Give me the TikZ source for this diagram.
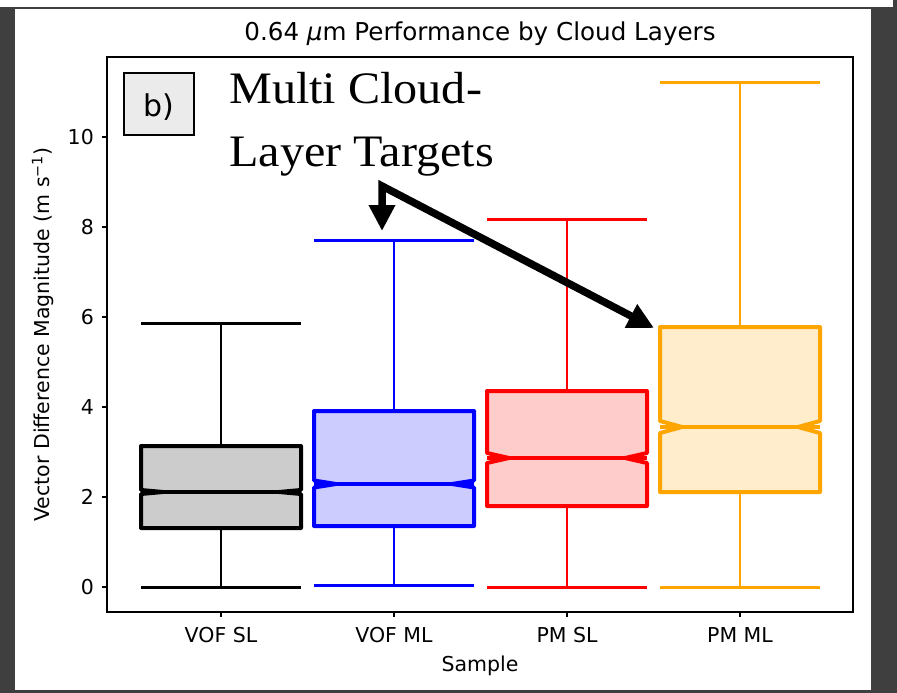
\documentclass[tikz,border=0pt]{standalone}
\usepackage{fontspec}
\setmainfont{DejaVu Sans}
\newfontfamily\notefont{Liberation Serif}
\usetikzlibrary{arrows.meta}

\definecolor{frame}{HTML}{3F3F3F}
\definecolor{grayfill}{HTML}{CCCCCC}
\definecolor{bluefill}{HTML}{CCCCFF}
\definecolor{redfill}{HTML}{FFCCCC}
\definecolor{orangeedge}{HTML}{FFA500}
\definecolor{orangefill}{HTML}{FFEDCC}
\definecolor{labelbox}{HTML}{EBEBEB}

% notched box plot: #1 x, #2 low whisker, #3 q1, #4 median, #5 q3,
% #6 high whisker, #7 notch half height, #8 edge colour, #9 fill colour
\newcommand\bxp[9]{%
  \draw[whisk, #8] (#1,#3) -- (#1,#2);
  \draw[whisk, #8] (#1,#5) -- (#1,#6);
  \draw[capline, #8] (#1-80,#2) -- (#1+80,#2);
  \draw[capline, #8] (#1-80,#6) -- (#1+80,#6);
  \filldraw[boxline, draw=#8, fill=#9]
    (#1-80,#5) -- (#1-80,#4-#7) -- (#1-58,#4) -- (#1-80,#4+#7) -- (#1-80,#3)
    -- (#1+80,#3) -- (#1+80,#4+#7) -- (#1+58,#4) -- (#1+80,#4-#7) -- (#1+80,#5) -- cycle;
  \draw[medline, #8] (#1-80,#4) -- (#1+80,#4);
}

% wide-set serif for the callout
\newcommand\widenote[1]{\scalebox{1.07}[1]{#1}}

\tikzset{
  whisk/.style={line width=2.8pt},
  capline/.style={line width=3pt},
  boxline/.style={line width=4pt, line join=round},
  medline/.style={line width=4pt},
  axisline/.style={line width=1.3pt, black},
  tickfont/.style={font=\fontsize{20.5}{24}\selectfont},
  notefont/.style={font=\notefont\fontsize{45}{52}\selectfont},
  notearrow/.style={line width=7.5pt, line join=miter,
    {Triangle[length=26pt,width=25pt]}-{Triangle[length=26pt,width=25pt]}},
}

\begin{document}
\begin{tikzpicture}[x=1pt, y=-1pt]
  % window frame and page
  \fill[frame] (0,0) rectangle (897,693);
  \fill[white] (0,0) rectangle (893,7.5);
  \fill[white] (15,9) rectangle (871,690);

  % title
  \node[anchor=base, font=\fontsize{24.6}{28}\selectfont] (title) at (480,41)
    {0.64 {\itshape μ}m Performance by Cloud Layers};

  % boxes
  \bxp{221}{587}{528}{492}{446}{323}{2}{black}{grayfill}
  \bxp{394}{585}{526}{484}{411}{240}{3.5}{blue}{bluefill}
  \bxp{567}{587}{506}{458}{391}{219}{5}{red}{redfill}
  \bxp{740}{587}{492}{427}{327}{83}{6}{orangeedge}{orangefill}

  % axes frame
  \draw[axisline] (107,57) rectangle (853,612);

  % y ticks
  \foreach \v/\yy in {0/587, 2/497, 4/407, 6/317, 8/227, 10/137} {
    \draw[axisline] (102,\yy) -- (107,\yy);
    \node[tickfont, anchor=east, inner sep=0pt] (yt\v) at (94,\yy) {\v};
  }

  % x ticks
  \foreach \xx/\lab/\nm in {221/VOF SL/a, 394/VOF ML/b, 567/PM SL/c, 740/PM ML/d} {
    \draw[axisline] (\xx,612) -- (\xx,617);
    \node[tickfont, anchor=base, inner sep=0pt] (xt\nm) at (\xx,642) {\lab};
  }

  % axis labels
  \node[tickfont, anchor=base, inner sep=0pt] (xlab) at (480,671) {Sample};
  \node[tickfont, rotate=90, anchor=center, inner sep=0pt] (ylab) at (43,334.5)
    {Vector Difference Magnitude (m s\textsuperscript{−1})};

  % panel tag
  \draw[line width=1.3pt, fill=labelbox] (124,73) rectangle (194,135);
  \node[anchor=base, inner sep=0pt, font=\fontsize{30}{34}\selectfont] (tag) at (159,117) {b)};

  % annotation
  \node[notefont, anchor=base west, inner sep=0pt] (note1) at (229,103) {\widenote{Multi Cloud-}};
  \node[notefont, anchor=base west, inner sep=0pt] (note2) at (229,166) {\widenote{Layer Targets}};

  \coordinate (apex) at (382,186);
  \coordinate (tipml) at (382,231);
  \coordinate (tippm) at (654,328);
  \draw[notearrow] (tipml) -- (apex) -- (tippm);
\end{tikzpicture}
\end{document}
